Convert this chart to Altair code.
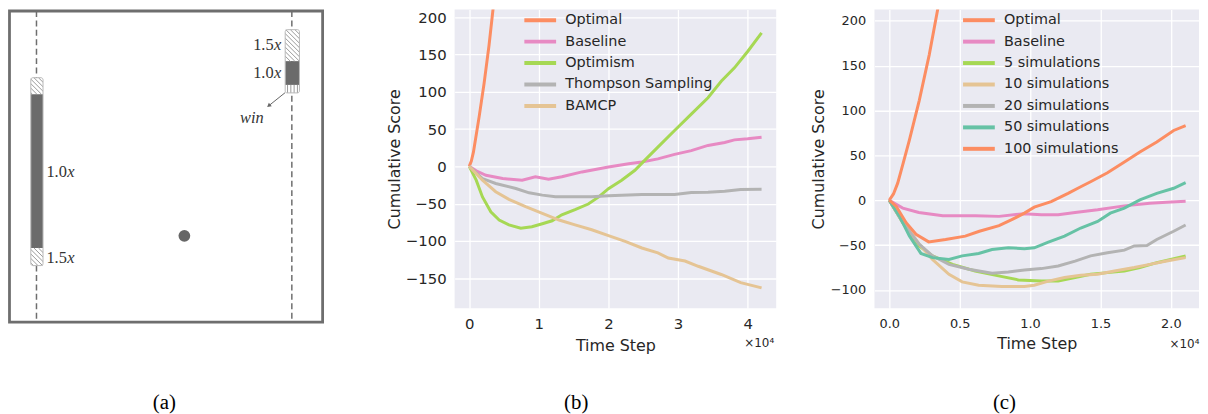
import altair as alt
import pandas as pd

# ---------------- panel (b) data (time step in units of 1e4) ----------------
B_NAMES = ["Optimal", "Baseline", "Optimism", "Thompson Sampling", "BAMCP"]
B_COLORS = ["#fc8d62", "#e78ac3", "#a6d854", "#b3b3b3", "#e5c494"]

OPT_T = [0, 0.03, 0.06, 0.1, 0.143, 0.213, 0.284, 0.354, 0.42]
OPT_V = [0, 7, 19, 42, 67, 111, 162, 221, 270]

B_BASE_T = [0, 0.1, 0.24, 0.48, 0.76, 0.95, 1.14, 1.33, 1.62, 2.0, 2.29, 2.48, 2.71, 2.95, 3.19, 3.43, 3.67, 3.81, 4.0, 4.2]
B_BASE_V = [0, -6, -12, -16.4, -18.6, -14, -17.3, -14, -7.5, -1, 3.5, 5.8, 10, 16, 21, 28, 32, 35.5, 37, 39]

B_OPTIM_T = [0, 0.1, 0.19, 0.31, 0.43, 0.57, 0.74, 0.9, 1.05, 1.19, 1.33, 1.52, 1.71, 1.86, 2.0, 2.19, 2.38, 2.52, 2.71, 2.95, 3.19, 3.43, 3.62, 3.81, 4.0, 4.2]
B_OPTIM_V = [0, -18.6, -41, -61, -72, -78.5, -83, -81, -77, -73, -65, -58, -50.5, -41, -30, -18.6, -5.3, 8, 25.7, 48, 70, 92, 114, 132, 154, 179]

B_TS_T = [0, 0.19, 0.38, 0.67, 0.86, 1.05, 1.24, 1.52, 1.76, 2.0, 2.48, 2.95, 3.19, 3.43, 3.67, 3.9, 4.2]
B_TS_V = [0, -16.4, -23, -29.7, -35.5, -38.6, -40.8, -40.8, -40.8, -39.5, -37.7, -37.7, -35, -34.6, -33.3, -31, -30.6]

B_BAMCP_T = [0, 0.19, 0.38, 0.57, 0.81, 1.05, 1.29, 1.52, 1.76, 2.0, 2.24, 2.48, 2.71, 2.86, 3.1, 3.29, 3.62, 3.9, 4.2]
B_BAMCP_V = [0, -18.6, -34, -44.3, -54, -63, -72, -78.5, -85, -93, -100.7, -109.5, -116, -123, -127, -134, -145, -156, -163]

B_XTICKS = [0, 1, 2, 3, 4]
B_YTICKS = [-150, -100, -50, 0, 50, 100, 150, 200]

# ---------------- panel (c) data ----------------
C_NAMES = ["Optimal", "Baseline", "5 simulations", "10 simulations", "20 simulations", "50 simulations", "100 simulations"]
C_COLORS = ["#fc8d62", "#e78ac3", "#a6d854", "#e5c494", "#b3b3b3", "#66c2a5", "#fc8d62"]

C_BASE_T = [0, 0.096, 0.21, 0.38, 0.61, 0.78, 0.96, 1.08, 1.2, 1.32, 1.48, 1.67, 1.85, 1.97, 2.105]
C_BASE_V = [0, -8.8, -13.6, -17.3, -17.3, -18, -15, -16.2, -16.2, -13.6, -10.7, -6.3, -3.3, -2.2, -1.1]

C_S5_T = [0, 0.096, 0.213, 0.307, 0.45, 0.61, 0.776, 0.917, 1.08, 1.2, 1.32, 1.43, 1.55, 1.67, 1.78, 1.9, 2.105]
C_S5_V = [0, -25, -51, -62, -71.5, -78.8, -84.3, -88.8, -89.9, -89.9, -86.2, -82.5, -80.7, -78.8, -75, -69.6, -62.2]

C_S10_T = [0, 0.096, 0.213, 0.307, 0.424, 0.518, 0.635, 0.8, 0.96, 1.03, 1.13, 1.245, 1.36, 1.48, 1.6, 1.74, 1.85, 1.97, 2.105]
C_S10_V = [0, -23.6, -49, -66, -82.5, -91, -94.7, -96.1, -96.1, -94.7, -90.2, -86.2, -83.6, -82.5, -78.8, -75, -71.5, -67.8, -64]

C_S20_T = [0, 0.096, 0.213, 0.307, 0.424, 0.565, 0.73, 0.846, 0.96, 1.08, 1.2, 1.32, 1.43, 1.55, 1.67, 1.74, 1.83, 1.9, 2.02, 2.105]
C_S20_V = [0, -25, -49, -62, -71.5, -77, -81.4, -80, -77.7, -76.2, -73.3, -67.8, -62, -58.6, -55.6, -51, -50.5, -43.8, -34.6, -27.6]

C_S50_T = [0, 0.073, 0.143, 0.225, 0.307, 0.424, 0.518, 0.635, 0.73, 0.846, 0.96, 1.03, 1.13, 1.245, 1.36, 1.48, 1.57, 1.67, 1.78, 1.9, 2.02, 2.105]
C_S50_V = [0, -18, -40, -59.3, -64, -66, -62, -59.3, -55, -53, -54, -53, -46.8, -40, -31, -23.6, -14.4, -8.8, 0.4, 7.7, 13.3, 19.5]

C_S100_T = [0, 0.05, 0.12, 0.19, 0.28, 0.4, 0.54, 0.64, 0.78, 0.87, 0.96, 1.03, 1.15, 1.27, 1.36, 1.43, 1.55, 1.67, 1.78, 1.9, 2.02, 2.105]
C_S100_V = [0, -7, -25, -38, -46.4, -43.8, -40, -34.6, -28.4, -21.7, -14.4, -7.7, -1.5, 7.7, 15, 20.6, 30.6, 42.7, 53.8, 64.8, 77.7, 83.2]

C_XTICKS = [0, 0.5, 1.0, 1.5, 2.0]
C_YTICKS = [-100, -50, 0, 50, 100, 150, 200]

CAPTIONS = ["(a)", "(b)", "(c)"]
OFFSET_TEXT = ["\u00d710\u2074"]

# ---------------- panel (a) diagram (court units 0..100) ----------------
LANES_X = [8.62, 90.17]
PAD_X0 = [6.81, 6.81, 6.81, 88.05, 88.05, 88.05]
PAD_X1 = [10.71, 10.71, 10.71, 92.6, 92.6, 92.6]
PAD_Y0 = [21.44, 26.73, 76.17, 6.0, 16.11, 23.76]
PAD_Y1 = [26.73, 76.17, 81.82, 16.11, 23.76, 26.32]
PAD_KIND = ["diag", "solid", "diag", "diag", "solid", "vert"]
LBL_TEXT = ["1.0", "1.5", "1.5", "1.0"]
LBL_X = [11.79, 11.79, 77.81, 77.81]
LBL_Y = [51.83, 79.36, 11.0, 19.94]
WIN_XY = [77.4, 34.29]
ARROW = [88.05, 26.22, 82.79, 30.46]
BALL = [55.85, 72.25]

TXT = "#262626"
FONT = "DejaVu Sans"
MINUS_EXPR = "datum.value < 0 ? '\u2212' + format(-datum.value, '{f}') : format(datum.value, '{f}')"


def series_df(names, ts, vs):
    rows = []
    for n, t, v in zip(names, ts, vs):
        for a, b in zip(t, v):
            rows.append({"series": n, "t": a, "v": b})
    return pd.DataFrame(rows)


def axis_x(values, fmt, fs, lpad, tpad):
    return alt.Axis(values=values, format=fmt, title="Time Step", grid=True, gridColor="white",
                    gridWidth=1.3, domain=False, ticks=False, tickSize=0, labelPadding=lpad,
                    labelFlush=False, labelOverlap=False, labelFont=FONT, labelFontSize=fs,
                    labelColor=TXT, titleFont=FONT, titleFontSize=16, titleFontWeight="normal",
                    titleColor=TXT, titlePadding=tpad)


def axis_y(values, fs, lpad, tpad):
    return alt.Axis(values=values, labelExpr=MINUS_EXPR.format(f="d"), title="Cumulative Score",
                    grid=True, gridColor="white", gridWidth=1.3, domain=False, ticks=False, tickSize=0,
                    labelPadding=lpad, labelFlush=False, labelOverlap=False, labelFont=FONT,
                    labelFontSize=fs, labelColor=TXT, titleFont=FONT, titleFontSize=16,
                    titleFontWeight="normal", titleColor=TXT, titlePadding=tpad)


def legend(lx, ly):
    return alt.Legend(title=None, orient="none", legendX=lx, legendY=ly, symbolType="M-4,0H4",
                      symbolSize=64, symbolStrokeWidth=4, labelFont=FONT, labelFontSize=14.5,
                      labelColor=TXT, labelOffset=18, rowPadding=4.6, padding=0, labelLimit=300)


def line_panel(df, names, colors, xdom, ydom, xt, yt, xfmt, w, h, lx, ly, cap, cap_x,
               off_x, off_align, off_y, tfs, xlp, xtp, ylp, ytp):
    lines = alt.Chart(df).mark_line(strokeWidth=3, clip=True).encode(
        x=alt.X("t:Q", scale=alt.Scale(domain=xdom, nice=False, zero=False), axis=axis_x(xt, xfmt, tfs, xlp, xtp)),
        y=alt.Y("v:Q", scale=alt.Scale(domain=ydom, nice=False, zero=False), axis=axis_y(yt, tfs, ylp, ytp)),
        color=alt.Color("series:N", scale=alt.Scale(domain=names, range=colors), legend=legend(lx, ly)),
    )
    caption = alt.Chart(pd.DataFrame({"c": [cap]})).mark_text(
        font="Liberation Serif", fontSize=21, color="black", align="center", baseline="alphabetic"
    ).encode(x=alt.value(cap_x), y=alt.value(402), text="c:N")
    offset = alt.Chart(pd.DataFrame({"c": OFFSET_TEXT})).mark_text(
        font=FONT, fontSize=12, color=TXT, align=off_align, baseline="alphabetic"
    ).encode(x=alt.value(off_x), y=alt.value(off_y), text="c:N")
    return alt.layer(lines, offset, caption).properties(
        width=w, height=h, view=alt.ViewBackground(fill="#eaeaf2", stroke=None)
    )


df_b = series_df(B_NAMES, [OPT_T, B_BASE_T, B_OPTIM_T, B_TS_T, B_BAMCP_T],
                 [OPT_V, B_BASE_V, B_OPTIM_V, B_TS_V, B_BAMCP_V])
df_c = series_df(C_NAMES, [OPT_T, C_BASE_T, C_S5_T, C_S10_T, C_S20_T, C_S50_T, C_S100_T],
                 [OPT_V, C_BASE_V, C_S5_V, C_S10_V, C_S20_V, C_S50_V, C_S100_V])

panel_b = line_panel(df_b, B_NAMES, B_COLORS, [-0.21, 4.41], [-190.3, 210.25], B_XTICKS, B_YTICKS, "d",
                     324, 301, 79, 3.5, CAPTIONS[1], 122.5, 322, "right", 340.3,
                     15, 8.0, 6.4, 8.5, 3.2)
panel_c = line_panel(df_c, C_NAMES, C_COLORS, [-0.105, 2.2], [-120.4, 212.5], C_XTICKS, C_YTICKS, ".1f",
                     327, 301, 98, 3.5, CAPTIONS[2], 131, 297.3, "left", 341.3,
                     13, 8.9, 5.7, 8.8, 4.2)

# ---------------- panel (a) ----------------
XS = alt.Scale(domain=[-0.4754, 110.78], nice=False, zero=False)
YS = alt.Scale(domain=[-0.4785, 101.59], nice=False, zero=False, reverse=True)


def X(f):
    return alt.X(f, type="quantitative", scale=XS, axis=None)


def Y(f):
    return alt.Y(f, type="quantitative", scale=YS, axis=None)


parts = pd.DataFrame({"x0": PAD_X0, "x1": PAD_X1, "y0": PAD_Y0, "y1": PAD_Y1, "kind": PAD_KIND})
parts["fill"] = ["#6b6b6b" if k == "solid" else "white" for k in PAD_KIND]

hatch_rows = []
for x0, x1, y0, y1, k in zip(PAD_X0, PAD_X1, PAD_Y0, PAD_Y1, PAD_KIND):
    if k == "diag":
        step = 1.45
        c = y0 - x1
        while c < y1 - x0:
            xa, xb = max(x0, y0 - c), min(x1, y1 - c)
            if xb > xa:
                hatch_rows.append({"x": xa, "y": xa + c, "x2": xb, "y2": xb + c})
            c += step
    elif k == "vert":
        xx = x0 + 0.75
        while xx < x1 - 0.3:
            hatch_rows.append({"x": xx, "y": y0, "x2": xx, "y2": y1})
            xx += 1.05
hatch = pd.DataFrame(hatch_rows)

outline = pd.DataFrame({"x0": [PAD_X0[0], PAD_X0[3]], "x1": [PAD_X1[0], PAD_X1[3]],
                        "y0": [PAD_Y0[0], PAD_Y0[3]], "y1": [PAD_Y1[2], PAD_Y1[5]]})

court = alt.Chart(pd.DataFrame({"x0": [0], "x1": [100], "y0": [0], "y1": [100]})).mark_rect(
    fillOpacity=0, stroke="#6e6e6e", strokeWidth=2.8
).encode(x=X("x0"), x2="x1", y=Y("y0"), y2="y1")

lanes = alt.Chart(pd.DataFrame({"x": LANES_X, "y0": [0, 0], "y1": [100, 100]})).mark_rule(
    color="#6e6e6e", strokeWidth=1.5, strokeDash=[6, 3.5]
).encode(x=X("x"), y=Y("y0"), y2="y1")

paddle_parts = alt.Chart(parts).mark_rect(strokeWidth=0).encode(
    x=X("x0"), x2="x1", y=Y("y0"), y2="y1", fill=alt.Fill("fill:N", scale=None)
)

hatch_lines = alt.Chart(hatch).mark_rule(color="#9a9a9a", strokeWidth=1).encode(
    x=X("x"), y=Y("y"), x2="x2", y2="y2"
)

outlines = alt.Chart(outline).mark_rect(fillOpacity=0, stroke="#b8b8b8", strokeWidth=1, cornerRadius=2).encode(
    x=X("x0"), x2="x1", y=Y("y0"), y2="y1"
)

ball = alt.Chart(pd.DataFrame({"x": [BALL[0]], "y": [BALL[1]]})).mark_circle(
    size=140, color="#666666", opacity=1
).encode(x=X("x"), y=Y("y"))

SERIF = "Liberation Serif"
lbl_df = pd.DataFrame({"t": LBL_TEXT, "x": LBL_X, "y": LBL_Y, "i": ["x"] * 4})
lbl_num = alt.Chart(lbl_df).mark_text(font=SERIF, fontSize=16.5, color="#333333",
                                      align="left", baseline="middle").encode(x=X("x"), y=Y("y"), text="t:N")
lbl_it = alt.Chart(lbl_df).mark_text(font=SERIF, fontSize=16.5, fontStyle="italic", color="#333333",
                                     align="left", baseline="middle", dx=21).encode(x=X("x"), y=Y("y"), text="i:N")
win = alt.Chart(pd.DataFrame({"x": [WIN_XY[0]], "y": [WIN_XY[1]], "t": ["win"]})).mark_text(
    font=SERIF, fontSize=16.5, fontStyle="italic", color="#333333", align="center", baseline="middle"
).encode(x=X("x"), y=Y("y"), text="t:N")

arrow_df = pd.DataFrame({"x": [ARROW[0]], "y": [ARROW[1]], "x2": [ARROW[2]], "y2": [ARROW[3]]})
arrow_line = alt.Chart(arrow_df).mark_rule(color="#666666", strokeWidth=1).encode(
    x=X("x"), y=Y("y"), x2="x2", y2="y2"
)
arrow_head = alt.Chart(arrow_df).mark_point(shape="triangle-up", filled=True, size=22, angle=231,
                                            color="#666666", opacity=1).encode(x=X("x2"), y=Y("y2"))

cap_a = alt.Chart(pd.DataFrame({"c": [CAPTIONS[0]]})).mark_text(
    font="Liberation Serif", fontSize=21, color="black", align="center", baseline="alphabetic"
).encode(x=alt.value(157.5), y=alt.value(402), text="c:N")

panel_a = alt.layer(court, lanes, paddle_parts, hatch_lines, outlines, ball, lbl_num, lbl_it, win,
                    arrow_line, arrow_head, cap_a).properties(
    width=351, height=320, view=alt.ViewBackground(fill=None, stroke=None)
)

chart = alt.hconcat(panel_a, panel_b, panel_c, spacing=99, bounds="flush").resolve_scale(
    color="independent"
).resolve_legend(color="independent").properties(padding=0, background="white").configure_view(stroke=None)

chart.save("out.html", embed_options={"renderer": "svg", "actions": False})
